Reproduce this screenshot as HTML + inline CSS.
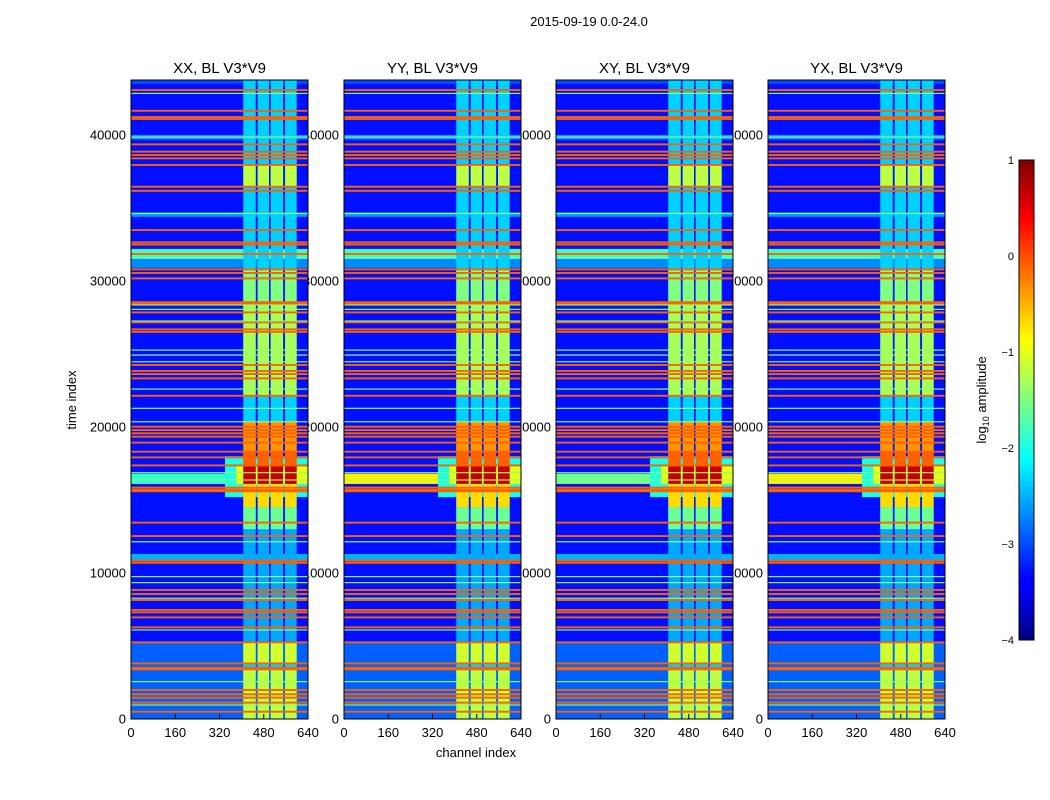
<!DOCTYPE html>
<html><head><meta charset="utf-8"><style>
body{margin:0;background:#fff;}
svg{display:block;font-family:"Liberation Sans",sans-serif;}
</style></head><body>
<svg id="fig" width="1050" height="800" viewBox="0 0 1050 800">
<text x="589" y="26" font-size="13" text-anchor="middle">2015-09-19 0.0-24.0</text>
<text transform="translate(76,400) rotate(-90)" font-size="13" text-anchor="middle">time index</text>
<text x="476" y="757" font-size="13" text-anchor="middle">channel index</text>
<g id="labels"></g>
<g id="panels"></g>
<defs><linearGradient id="jetg" x1="0" y1="1" x2="0" y2="0">
<stop offset="0" stop-color="#00007f"/><stop offset="0.11" stop-color="#0000ff"/><stop offset="0.125" stop-color="#0000ff"/>
<stop offset="0.375" stop-color="#00ffff"/><stop offset="0.625" stop-color="#ffff00"/><stop offset="0.875" stop-color="#ff0000"/><stop offset="1" stop-color="#7f0000"/>
</linearGradient></defs>
<rect x="1019" y="160" width="15" height="480" fill="url(#jetg)" stroke="#000" stroke-width="1"/>
<g id="cbticks"></g>
<text transform="translate(986,400) rotate(-90)" font-size="13" text-anchor="middle">log<tspan font-size="9" dy="3">10</tspan><tspan dy="-3"> amplitude</tspan></text>
</svg>
<script>
const panelTitles = ["XX, BL V3*V9","YY, BL V3*V9","XY, BL V3*V9","YX, BL V3*V9"];
const channelTicks = [0,160,320,480,640];
const timeTicks = [0,10000,20000,30000,40000];
const colorbarTicks = [1,0,-1,-2,-3,-4];
const tMax = 43770, chMax = 640, vMin = -4, vMax = 1;
const backgroundValue = -3.3;
const bands = [[32200,31500,-1.8],[31500,30900,-2.7],[34700,34400,-2.6],[11300,10900,-2.5],[5300,0,-2.9],[40000,39700,-2.6],[43770,43500,-3.0]];
const columnChannels = [[406,451],[458,499],[505,550],[557,599]];
const columnBase = [[43770,13000,-2.35],[13000,5300,-2.55],[5300,0,-2.35]];
const columnSegments = [[37950,36460,-1.2],[30800,28510,-1.5],[28400,22140,-1.3],[20400,18300,-0.35],[18300,17300,-0.1],[17300,16100,0.65],[16100,14500,-0.7],[14500,13000,-1.6],[5250,3810,-1.1],[3450,0,-1.2]];
const halo = [[18000,15200,340,-2.0],[17300,16100,380,-1.0]];
const leftStreakValues = [-1.9,-0.8,-1.6,-0.8];
const leftStreak = [16800,16100];
const orangeStripes = [43080,41660,41230,41100,39360,38860,38630,38400,37950,36460,36180,33490,32650,32500,31850,30800,30550,30180,28550,28450,27850,27170,26690,26520,24250,23840,23630,23330,22140,20020,19790,19570,19340,18930,18310,17920,17370,15850,15700,15600,13450,12530,10850,10700,8840,8560,8150,7470,7310,6960,6280,5250,3810,3500,3400,1990,1690,1460,1120,500];
const stripeValue = -0.1;
const greenLines = [42850,39860,34630,28360,28060,27260,25270,24930,24470,22600,21280,20360,16870,16370,12140,9750,9340,8270,6100,2560,960];
const greenValue = -1.4;

const NS="http://www.w3.org/2000/svg";
const panelX=[131,344,556,768], pw=177, y0=80, y1=719;
function jet(v){let t=(v-vMin)/(vMax-vMin);t=Math.max(0,Math.min(1,t));
 const c=x=>Math.round(255*Math.max(0,Math.min(1,x)));
 return `rgb(${c(1.5-Math.abs(4*t-3))},${c(1.5-Math.abs(4*t-2))},${c(1.5-Math.abs(4*t-1))})`;}
function mk(tag,attrs,parent){const e=document.createElementNS(NS,tag);for(const k in attrs)e.setAttribute(k,attrs[k]);parent.appendChild(e);return e;}
const labels=document.getElementById('labels'), panels=document.getElementById('panels');
panelX.forEach((px,i)=>{
 const xs=ch=>px+ch/chMax*pw, ys=t=>y1-t/tMax*(y1-y0);
 timeTicks.forEach(t=>{const e=mk('text',{x:px-5,y:ys(t)+4.5,'font-size':13,'text-anchor':'end'},labels);e.textContent=t;
  
  });
 channelTicks.forEach(c=>{const e=mk('text',{x:xs(c),y:737,'font-size':13,'text-anchor':'middle'},labels);e.textContent=c;
  
  });
 const g=mk('g',{},panels);
 
 
 const R=(c0,c1,t0,t1,v,name)=>{const r=mk('rect',{x:xs(c0),width:xs(c1)-xs(c0),y:ys(t0),height:Math.max(0.8,ys(t1)-ys(t0)),fill:jet(v)},g);
  
  };
 R(0,chMax,tMax,0,backgroundValue,'background');
 bands.forEach(b=>R(0,chMax,b[0],b[1],b[2],'band'));
 R(0,chMax,leftStreak[0],leftStreak[1],leftStreakValues[i],'left-streak');
 halo.forEach(h=>R(h[2],chMax,h[0],h[1],h[3],'halo'));
 columnChannels.forEach(cc=>{
  columnBase.forEach(s=>R(cc[0],cc[1],s[0],s[1],s[2],'column-base'));
  columnSegments.forEach(s=>R(cc[0],cc[1],s[0],s[1],s[2],'column-segment'));
 });
 orangeStripes.forEach(t=>R(0,chMax,t+65,t-65,stripeValue,'orange-stripe'));
 greenLines.forEach(t=>R(0,chMax,t+40,t-40,greenValue,'green-line'));
 const f=mk('rect',{x:px,y:y0,width:pw,height:y1-y0,fill:'none',stroke:'#000','stroke-width':1},g);
 
 
 channelTicks.forEach(c=>{const l=mk('line',{x1:xs(c),x2:xs(c),y1:y1,y2:y1-5,stroke:'#000'},g);
  
  });
 const tt=mk('text',{x:px+pw/2,y:73,'font-size':15,'text-anchor':'middle'},g);tt.textContent=panelTitles[i];
 
 
});
const cb=document.getElementById('cbticks');
colorbarTicks.forEach(v=>{const y=640-(v-vMin)/(vMax-vMin)*480;
 const e=mk('text',{x:1014,y:y+4,'font-size':11,'text-anchor':'end'},cb);e.textContent=v<0?'\u2212'+(-v):v;
 
 });
</script>
</body></html>
